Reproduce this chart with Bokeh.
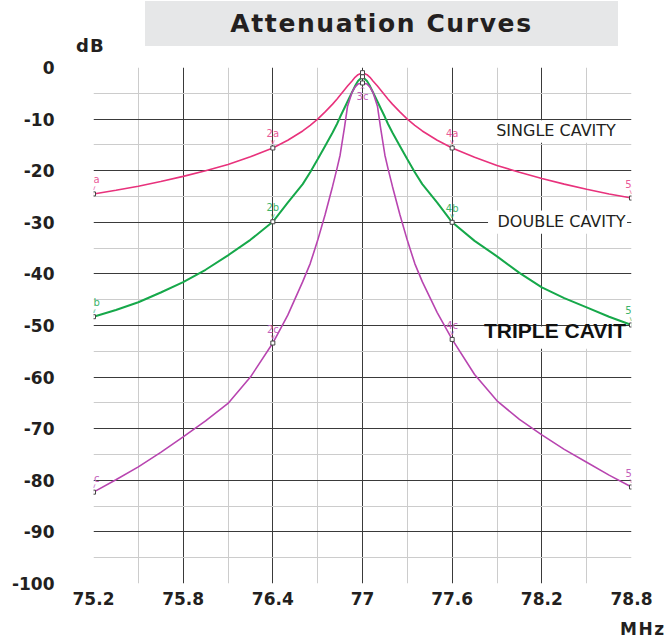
from bokeh.plotting import figure
from bokeh.models import (FixedTicker, Label, BoxAnnotation, Range1d, Div)
from bokeh.layouts import column
from bokeh.core.properties import value
from bokeh.embed import file_html
from bokeh.resources import INLINE

# ---------------- data ----------------
freq = [75.2, 75.35, 75.5, 75.65, 75.8, 75.95, 76.1, 76.25, 76.4, 76.5, 76.6, 76.65,
        76.7, 76.75, 76.8, 76.83, 76.85, 76.88, 76.9, 76.93, 76.95, 76.97, 77.0,
        77.03, 77.05, 77.07, 77.1, 77.12, 77.15, 77.17, 77.2, 77.25, 77.3, 77.35,
        77.4, 77.5, 77.6, 77.75, 77.9, 78.05, 78.2, 78.35, 78.5, 78.65, 78.8]

single_db = [-24.5, -23.8, -23.0, -22.1, -21.1, -20.0, -18.8, -17.3, -15.6, -14.1, -12.3, -11.2,
             -10.0, -8.6, -7.1, -6.1, -5.4, -4.3, -3.6, -2.6, -1.9, -1.4, -1.0,
             -1.4, -1.9, -2.6, -3.6, -4.3, -5.4, -6.1, -7.1, -8.6, -10.0, -11.2,
             -12.3, -14.1, -15.6, -17.4, -19.0, -20.3, -21.5, -22.6, -23.6, -24.5, -25.3]

double_db = [-48.3, -47.0, -45.5, -43.6, -41.6, -39.2, -36.4, -33.4, -29.9, -26.2, -22.6, -20.3,
             -17.8, -15.2, -12.6, -10.9, -9.6, -7.8, -6.6, -4.8, -3.6, -2.6, -1.8,
             -2.6, -3.6, -4.8, -6.6, -7.8, -9.6, -10.9, -12.6, -15.2, -17.8, -20.3,
             -22.6, -26.2, -30.0, -33.6, -36.6, -39.8, -42.6, -44.7, -46.5, -48.3, -49.9]

triple_db = [-82.3, -79.9, -77.4, -74.6, -71.6, -68.5, -65.1, -60.0, -53.4, -48.0, -41.5, -38.0,
             -33.5, -28.5, -23.0, -19.5, -17.0, -11.5, -7.5, -4.8, -3.8, -3.2, -3.0,
             -3.2, -3.8, -4.8, -7.5, -11.5, -17.0, -19.5, -23.0, -28.5, -33.5, -38.0,
             -41.5, -47.5, -52.7, -59.5, -64.6, -68.2, -71.2, -74.0, -76.5, -79.0, -81.3]

marker_freqs = [75.2, 76.4, 77.0, 77.6, 78.8]
single_tags = ["1a", "2a", "", "4a", "5a"]
double_tags = ["1b", "2b", "", "4b", "5b"]
triple_tags = ["1c", "2c", "3c", "4c", "5c"]

xtick_values = [75.2, 75.8, 76.4, 77.0, 77.6, 78.2, 78.8]
xtick_labels = ["75.2", "75.8", "76.4", "77", "77.6", "78.2", "78.8"]
ytick_values = [0, -10, -20, -30, -40, -50, -60, -70, -80, -90, -100]
ytick_labels = ["0", "-10", "-20", "-30", "-40", "-50", "-60", "-70", "-80", "-90", "-100"]

title_text = "Attenuation Curves"
y_unit = "dB"
x_unit = "MHz"
curve_names = ["SINGLE CAVITY", "DOUBLE CAVITY", "TRIPLE CAVIT"]

# ---------------- styles ----------------
C_SINGLE = "#e8327c"
C_DOUBLE = "#16a84a"
C_TRIPLE = "#b845b0"
L_SINGLE = "#ea5a98"
L_DOUBLE = "#3db469"
L_TRIPLE = "#c462bc"
TXT = "#231f20"
FONT = "DejaVu Sans"

p = figure(width=668, height=560, output_backend="svg", toolbar_location=None,
           x_range=Range1d(75.2, 78.8), y_range=Range1d(-100, 0),
           min_border_left=93, min_border_right=37, min_border_top=10, min_border_bottom=34,
           margin=0)
p.outline_line_color = None
p.background_fill_color = "white"

# grids
p.xgrid.ticker = FixedTicker(ticks=[75.8, 76.4, 77.0, 77.6, 78.2, 78.8],
                             minor_ticks=[75.5, 76.1, 76.7, 77.3, 77.9, 78.5])
p.ygrid.ticker = FixedTicker(ticks=ytick_values,
                             minor_ticks=[-5, -15, -25, -35, -45, -55, -65, -75, -85, -95])
for g in (p.xgrid, p.ygrid):
    g.grid_line_color = "#3a3a3a"
    g.grid_line_width = 1
    g.grid_line_alpha = 1.0
    g.minor_grid_line_color = "#cccccc"
    g.minor_grid_line_width = 1

# axes
p.xaxis.ticker = FixedTicker(ticks=xtick_values)
p.xaxis.major_label_overrides = {v: s for v, s in zip(xtick_values, xtick_labels)}
p.yaxis.ticker = FixedTicker(ticks=ytick_values)
p.yaxis.major_label_overrides = {v: s for v, s in zip(ytick_values, ytick_labels)}
for ax in (p.xaxis, p.yaxis):
    ax.axis_line_color = None
    ax.major_tick_line_color = None
    ax.minor_tick_line_color = None
    ax.major_tick_out = 0
    ax.major_tick_in = 0
    ax.minor_tick_out = 0
    ax.minor_tick_in = 0
    ax.major_label_text_font = FONT
    ax.major_label_text_font_style = "bold"
    ax.major_label_text_font_size = "17px"
    ax.major_label_text_color = TXT
p.xaxis.major_label_standoff = 8
p.yaxis.major_label_standoff = 39

# white boxes behind curve names
for l, r, t, b in [(77.84, 78.79, -10.2, -14.6), (77.84, 78.77, -27.7, -32.2), (77.80, 78.79, -50.2, -54.5)]:
    p.add_layout(BoxAnnotation(left=l, right=r, top=t, bottom=b, fill_color="white",
                               fill_alpha=1.0, line_color=None, level="underlay"))

# curves
p.line(freq, single_db, line_color=C_SINGLE, line_width=1.6)
p.line(freq, double_db, line_color=C_DOUBLE, line_width=2.0)
p.line(freq, triple_db, line_color=C_TRIPLE, line_width=1.6)

# markers and tags
def add_markers(series, tags, tag_color):
    idx = [freq.index(f) for f in marker_freqs]
    xs = [freq[i] for i in idx]
    ys = [series[i] for i in idx]
    up = [(x, y, t) for x, y, t in zip(xs, ys, tags) if t and t != "3c"]
    p.scatter(xs, ys, marker="square", size=4, fill_color="white", line_color="#444444", line_width=1)
    p.text([u[0] for u in up], [u[1] for u in up], text=[u[2] for u in up], text_font=value(FONT),
           text_font_size="10px", text_color=tag_color, text_align="center",
           text_baseline="middle", y_offset=-14)
    p.text([u[0] for u in up], [u[1] for u in up], text=["v"] * len(up), text_font=value(FONT),
           text_font_size="7px", text_color=tag_color, text_align="center",
           text_baseline="middle", y_offset=-6)
    dn = [(x, y, t) for x, y, t in zip(xs, ys, tags) if t == "3c"]
    if dn:
        p.text([d[0] for d in dn], [d[1] for d in dn], text=[d[2] for d in dn], text_font=value(FONT),
               text_font_size="10px", text_color=tag_color, text_align="center",
               text_baseline="middle", y_offset=14)
        p.text([d[0] for d in dn], [d[1] for d in dn], text=["^"] * len(dn), text_font=value(FONT),
               text_font_size="7px", text_color=tag_color, text_align="center",
               text_baseline="middle", y_offset=7)

add_markers(single_db, single_tags, L_SINGLE)
add_markers(double_db, double_tags, L_DOUBLE)
add_markers(triple_db, triple_tags, L_TRIPLE)

# curve names
p.add_layout(Label(x=78.295, y=-12.2, text=curve_names[0], text_font=FONT, text_font_size="16px",
                   text_color=TXT, text_align="center", text_baseline="middle"))
p.add_layout(Label(x=78.332, y=-29.85, text=curve_names[1], text_font=FONT, text_font_size="16px",
                   text_color=TXT, text_align="center", text_baseline="middle"))
p.add_layout(Label(x=78.288, y=-50.9, text=curve_names[2], text_font="Liberation Sans",
                   text_font_style="bold", text_font_size="21px",
                   text_color="#111111", text_align="center", text_baseline="middle"))

# title box and unit labels (HTML above / below the figure)
top_html = (
    '<div style="position:relative;width:668px;height:57px;">'
    '<div style="position:absolute;left:145px;top:1px;width:473px;height:45px;background:#e6e7e8;"></div>'
    '<div style="position:absolute;left:145px;top:1px;width:473px;height:45px;line-height:45px;'
    'text-align:center;font-family:\'DejaVu Sans\';font-weight:bold;font-size:25px;letter-spacing:1.6px;'
    'color:#231f20;">' + title_text + '</div>'
    '<div style="position:absolute;left:76px;top:35px;line-height:22px;font-family:\'DejaVu Sans\';'
    'font-weight:bold;font-size:18px;letter-spacing:1px;color:#231f20;">' + y_unit + '</div>'
    '</div>'
)
bottom_html = (
    '<div style="position:relative;width:668px;height:24px;">'
    '<div style="position:absolute;left:620px;top:2px;line-height:20px;font-family:\'DejaVu Sans\';'
    'font-weight:bold;font-size:17px;letter-spacing:1.5px;color:#231f20;">' + x_unit + '</div>'
    '</div>'
)
top = Div(text=top_html, width=668, height=57, margin=0)
bottom = Div(text=bottom_html, width=668, height=24, margin=0)

layout = column(top, p, bottom, spacing=0, margin=0)

open("out.html", "w").write(file_html(layout, INLINE))
